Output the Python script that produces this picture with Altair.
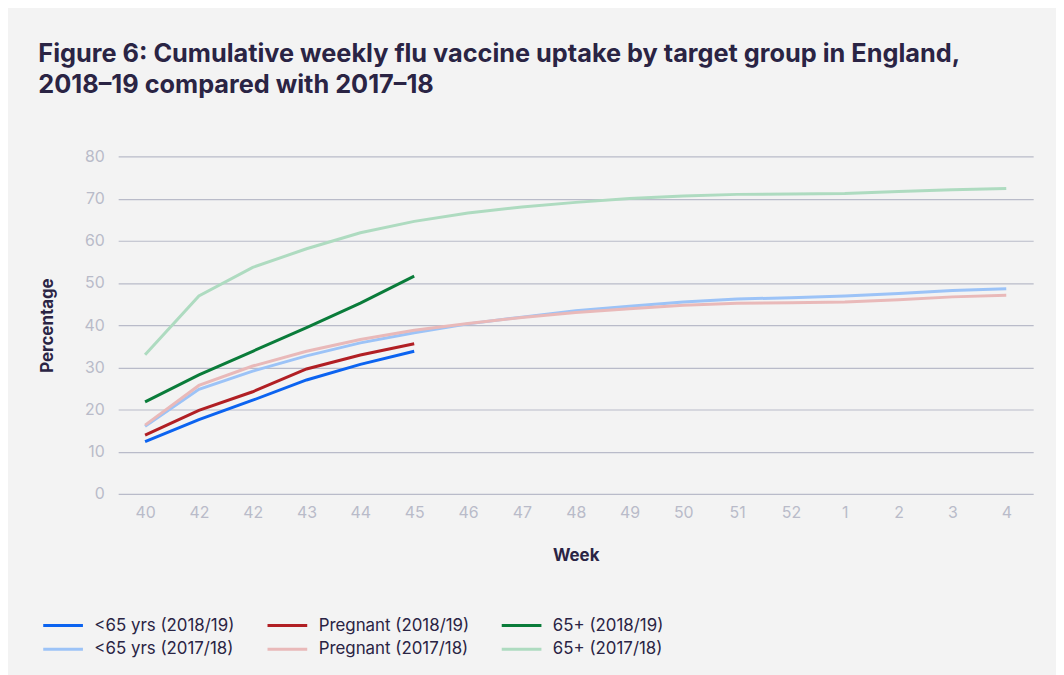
import json
import altair as alt
import pandas as pd

weeks = ["40", "42", "42", "43", "44", "45", "46", "47", "48", "49", "50", "51", "52", "1", "2", "3", "4"]

under65_1819 = [12.4, 17.6, 22.2, 27.0, 30.7, 33.8]
pregnant_1819 = [13.9, 19.8, 24.2, 29.6, 32.9, 35.6]
over65_1819 = [21.8, 28.2, 33.8, 39.4, 45.2, 51.6]

under65_1718 = [16.0, 24.8, 29.1, 32.7, 35.8, 38.2, 40.3, 41.9, 43.4, 44.5, 45.5, 46.2, 46.5, 46.9, 47.5, 48.2, 48.6]
pregnant_1718 = [16.3, 25.7, 30.3, 33.8, 36.6, 38.8, 40.4, 41.8, 43.0, 43.9, 44.7, 45.2, 45.3, 45.5, 46.0, 46.7, 47.1]
over65_1718 = [33.0, 46.9, 53.7, 58.1, 61.9, 64.6, 66.6, 68.0, 69.1, 70.0, 70.6, 71.0, 71.1, 71.2, 71.7, 72.1, 72.4]

# legend order (fills column by column)
series_names = [
    "<65 yrs (2018/19)", "<65 yrs (2017/18)",
    "Pregnant (2018/19)", "Pregnant (2017/18)",
    "65+ (2018/19)", "65+ (2017/18)",
]
series_values = [under65_1819, under65_1718, pregnant_1819, pregnant_1718, over65_1819, over65_1718]
series_colors = ["#0b63f0", "#9cc3f7", "#b11f24", "#e9b9b9", "#0a7c3a", "#aedbc0"]
draw_order = [5, 2, 4, 1, 3, 0]

rows = []
for k, (name, vals) in enumerate(zip(series_names, series_values)):
    for i, v in enumerate(vals):
        rows.append({"pos": i, "series": name, "value": v, "order": draw_order[k]})
df = pd.DataFrame(rows)

label_expr = json.dumps(weeks) + "[datum.value]"

TXT = "#2a2444"
GRAY = "#b9bbc9"
FONT = "Inter"

chart = alt.Chart(df).mark_line(strokeWidth=3).encode(
    x=alt.X("pos:O", title="Week",
            scale=alt.Scale(padding=0.5),
            axis=alt.Axis(labelExpr=label_expr, labelAngle=0, labelFontSize=16,
                          labelColor=GRAY, labelPadding=11, ticks=False, domain=False,
                          grid=False, titleFontSize=17, titleFontWeight="bold",
                          titleColor=TXT, titlePadding=27, labelFont=FONT, titleFont=FONT)),
    y=alt.Y("value:Q", title="Percentage",
            scale=alt.Scale(domain=[0, 80]),
            axis=alt.Axis(values=list(range(0, 81, 10)), labelFontSize=16, labelColor=GRAY,
                          labelPadding=14, ticks=False, domain=False, gridColor=GRAY,
                          gridWidth=1.2, titleFontSize=17, titleFontWeight="bold",
                          titleColor=TXT, titlePadding=28, labelFont=FONT, titleFont=FONT)),
    color=alt.Color("series:N", sort=series_names,
                    scale=alt.Scale(domain=series_names, range=series_colors),
                    legend=alt.Legend(title=None, orient="none", legendX=-67, legendY=461,
                                      columns=3, columnPadding=26, rowPadding=4,
                                      symbolType="M -2 0 L 2 0", symbolSize=400,
                                      symbolStrokeWidth=3, labelFontSize=17,
                                      labelColor=TXT, labelFont=FONT, labelOffset=20,
                                      labelLimit=300)),
    detail="series:N",
    order=alt.Order("order:Q"),
).properties(
    width=922,
    height=340,
    title=alt.Title(
        ["Figure 6: Cumulative weekly flu vaccine uptake by target group in England,",
         "2018\u201319 compared with 2017\u201318"],
        anchor="start", frame="bounds", fontSize=25.5, fontWeight="bold", color=TXT,
        font=FONT, lineHeight=32, offset=50,
    ),
    background="#f3f3f3",
    padding={"left": 111, "top": 147, "right": 23, "bottom": 180},
    autosize=alt.AutoSizeParams(type="none"),
).configure_view(stroke=None)

chart.save("out.html", embed_options={"renderer": "svg", "actions": False})
